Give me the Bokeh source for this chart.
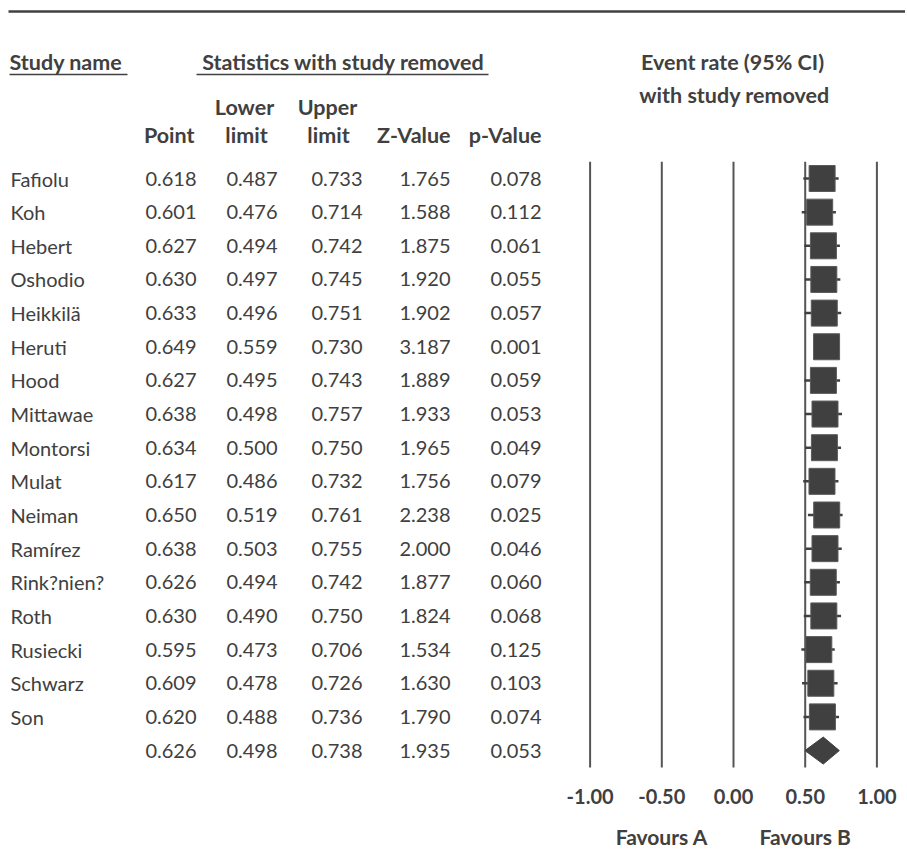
from bokeh.plotting import figure
from bokeh.models import Range1d, ColumnDataSource
from bokeh.core.properties import value
from bokeh.embed import file_html
from bokeh.resources import INLINE

# ---------------- data ----------------
studies = ["Fafiolu", "Koh", "Hebert", "Oshodio", "Heikkilä", "Heruti", "Hood",
           "Mittawae", "Montorsi", "Mulat", "Neiman", "Ramírez", "Rink?nien?",
           "Roth", "Rusiecki", "Schwarz", "Son"]
point = [0.618, 0.601, 0.627, 0.630, 0.633, 0.649, 0.627, 0.638, 0.634, 0.617,
         0.650, 0.638, 0.626, 0.630, 0.595, 0.609, 0.620]
lower = [0.487, 0.476, 0.494, 0.497, 0.496, 0.559, 0.495, 0.498, 0.500, 0.486,
         0.519, 0.503, 0.494, 0.490, 0.473, 0.478, 0.488]
upper = [0.733, 0.714, 0.742, 0.745, 0.751, 0.730, 0.743, 0.757, 0.750, 0.732,
         0.761, 0.755, 0.742, 0.750, 0.706, 0.726, 0.736]
zval = [1.765, 1.588, 1.875, 1.920, 1.902, 3.187, 1.889, 1.933, 1.965, 1.756,
        2.238, 2.000, 1.877, 1.824, 1.534, 1.630, 1.790]
pval = [0.078, 0.112, 0.061, 0.055, 0.057, 0.001, 0.059, 0.053, 0.049, 0.079,
        0.025, 0.046, 0.060, 0.068, 0.125, 0.103, 0.074]
sum_point, sum_lower, sum_upper, sum_z, sum_p = 0.626, 0.498, 0.738, 1.935, 0.053
ticks = [-1.0, -0.5, 0.0, 0.5, 1.0]
tick_labels = ["%.2f" % t for t in ticks]
favours = ["Favours A", "Favours B"]
favours_x = [-0.5, 0.5]

# ---------------- layout ----------------
W, H = 905, 854
ZERO_X, UNIT = 733.0, 143.4        # screen x of 0 and px per unit
ROW0_Y, ROW_H = 178.0, 33.65       # screen y of first row and row pitch
FONT = value("Lato")
COL = "#404040"

p = figure(width=W, height=H, x_range=Range1d(0, W), y_range=Range1d(H, 0),
           output_backend="svg", toolbar_location=None, min_border=0,
           x_axis_location=None, y_axis_location=None, tools="")
p.grid.visible = False
p.outline_line_color = None
p.background_fill_color = "white"
p.border_fill_color = "white"
p.extra_x_ranges = {"eff": Range1d((0 - ZERO_X) / UNIT, (W - ZERO_X) / UNIT)}
p.extra_y_ranges = {"row": Range1d((H - ROW0_Y) / ROW_H, (0 - ROW0_Y) / ROW_H)}

n = len(studies)
rows = list(range(n))
all_rows = rows + [n]

# top rule and header underlines (layout coordinates)
p.segment(x0=[8, 9, 196], x1=[W, 127, 488], y0=[11, 74, 74], y1=[11, 74, 74],
          line_color=COL, line_width=[2.5, 1.5, 1.5])

def txt(x, y, t, align="left", bold=False, size="20px", **kw):
    p.text(x=x, y=y, text=t, text_font=FONT, text_font_size=size,
           text_font_style="bold" if bold else "normal", text_color=COL,
           text_align=align, text_baseline="middle", **kw)

HB = "21.5px"
# headers (y = vertical centre of capitals)
txt([9], [61], ["Study name"], bold=True, size=HB)
txt([343], [61], ["Statistics with study removed"], align="center", bold=True, size=HB)
txt([732], [61], ["Event rate (95% CI)"], align="center", bold=True, size=HB)
txt([734], [94], ["with study removed"], align="center", bold=True, size=HB)
txt([244, 327], [106, 106], ["Lower", "Upper"], align="center", bold=True, size=HB)
txt([246, 328], [134, 134], ["limit", "limit"], align="center", bold=True, size=HB)
txt([194, 450, 541], [134, 134, 134], ["Point", "Z-Value", "p-Value"], align="right",
    bold=True, size=HB)

# table body
txt([10] * n, rows, studies, y_range_name="row")
cols = [(196, point, sum_point), (277, lower, sum_lower), (362, upper, sum_upper),
        (450, zval, sum_z), (541, pval, sum_p)]
for xr, vals, sv in cols:
    labels = ["%.3f" % v for v in vals] + ["%.3f" % sv]
    txt([xr] * (n + 1), all_rows, labels, align="right", y_range_name="row")

# forest plot: reference lines
p.segment(x0=ticks, x1=ticks, y0=[-0.5] * len(ticks), y1=[n + 0.5] * len(ticks),
          x_range_name="eff", y_range_name="row", line_color="#555555", line_width=2)

src = ColumnDataSource(dict(row=rows, point=point, lower=lower, upper=upper))
p.segment(x0="lower", x1="upper", y0="row", y1="row", source=src,
          x_range_name="eff", y_range_name="row", line_color=COL, line_width=2.5)
p.rect(x="point", y="row", width=26, height=26, width_units="screen", height_units="screen",
       source=src, x_range_name="eff", y_range_name="row",
       fill_color=COL, line_color="#5a5a5a", line_width=1)

# summary diamond
half = 13.5 / ROW_H
p.patch(x=[sum_lower, sum_point, sum_upper, sum_point], y=[n, n - half, n, n + half],
        x_range_name="eff", y_range_name="row", fill_color=COL, line_color=COL)

# tick labels and favours labels
p.text(x=ticks, y=[796] * len(ticks), text=tick_labels, x_range_name="eff",
       text_font=FONT, text_font_size="20px", text_font_style="bold", text_color=COL,
       text_align="center", text_baseline="middle")
p.text(x=favours_x, y=[836] * len(favours), text=favours, x_range_name="eff",
       text_font=FONT, text_font_size="21px", text_font_style="bold", text_color=COL,
       text_align="center", text_baseline="middle")

open("out.html", "w").write(file_html(p, INLINE))
